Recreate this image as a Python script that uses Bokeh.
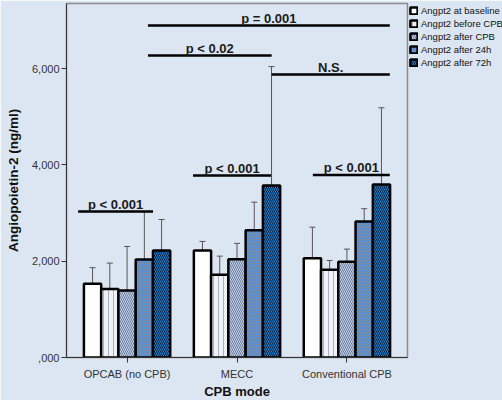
from bokeh.plotting import figure
from bokeh.models import (ColumnDataSource, FactorRange, Range1d, Legend, LegendItem,
                          Whisker, TeeHead, FixedTicker)
from bokeh.transform import dodge
from bokeh.core.properties import value
from bokeh.embed import file_html
from bokeh.resources import INLINE

# ---------------- data ----------------
categories = ["OPCAB (no CPB)", "MECC", "Conventional CPB"]
series_names = ["Angpt2 at baseline", "Angpt2 before CPB", "Angpt2 after CPB",
                "Angpt2 after 24h", "Angpt2 after 72h"]

baseline = [1530, 2220, 2060]
before_cpb = [1420, 1720, 1820]
after_cpb = [1390, 2040, 1990]
after_24h = [2035, 2640, 2825]
after_72h = [2220, 3570, 3590]

baseline_lo = [955, 1885, 1890]
baseline_hi = [1865, 2410, 2705]
before_cpb_lo = [490, 1510, 1570]
before_cpb_hi = [1960, 2105, 2015]
after_cpb_lo = [615, 1710, 1730]
after_cpb_hi = [2305, 2370, 2250]
after_24h_lo = [955, 2035, 2320]
after_24h_hi = [3030, 3225, 3090]
after_72h_lo = [1580, 2530, 2000]
after_72h_hi = [2865, 6040, 5185]

y_ticks = [0, 2000, 4000, 6000]
y_tick_labels = [",000", "2,000", "4,000", "6,000"]

# significance brackets: label, from category, to category, level
bracket_labels = ["p = 0.001", "p < 0.02", "N.S.", "p < 0.001", "p < 0.001", "p < 0.001"]
bracket_from = ["OPCAB (no CPB)", "OPCAB (no CPB)", "MECC", "OPCAB (no CPB)", "MECC", "Conventional CPB"]
bracket_to = ["Conventional CPB", "MECC", "Conventional CPB", "OPCAB (no CPB)", "MECC", "Conventional CPB"]
bracket_level = [6895, 6272, 5877, 3032, 3780, 3790]

# ---------------- styles ----------------
BG = "#dce6f2"
FONT = "Liberation Sans"
bar_w = 0.157
offsets = [-2 * bar_w, -bar_w, 0.0, bar_w, 2 * bar_w]
bracket_from_off = [0.19, 0.19, 0.315, -0.445, -0.40, -0.31]
bracket_to_off = [0.39, 0.315, 0.39, 0.236, 0.31, 0.39]
styles = [
    dict(fill_color="white", hatch_pattern=None, hatch_color="white", hatch_scale=4),
    dict(fill_color="#eef2f8", hatch_pattern="|", hatch_color="#a9b3c0", hatch_scale=5),
    dict(fill_color="#c3d2ea", hatch_pattern="\\", hatch_color="#6a7c9c", hatch_scale=4),
    dict(fill_color="#5b8fd0", hatch_pattern="-", hatch_color="#7d8b9a", hatch_scale=3),
    dict(fill_color="#0b2340", hatch_pattern="\\", hatch_color="#1f7fd0", hatch_scale=4),
]

values = [baseline, before_cpb, after_cpb, after_24h, after_72h]
lows = [baseline_lo, before_cpb_lo, after_cpb_lo, after_24h_lo, after_72h_lo]
highs = [baseline_hi, before_cpb_hi, after_cpb_hi, after_24h_hi, after_72h_hi]

p = figure(frame_width=341, frame_height=354,
           x_range=FactorRange(factors=categories, range_padding=0.034),
           y_range=Range1d(0, 7350),
           output_backend="svg", toolbar_location=None,
           background_fill_color=BG, border_fill_color=BG,
           min_border_left=66, min_border_top=3, min_border_right=0, min_border_bottom=0)

p.xgrid.visible = False
p.ygrid.visible = False
p.outline_line_color = "#8a8a8a"
p.outline_line_width = 1.5

items = []
for i, name in enumerate(series_names):
    src = ColumnDataSource(dict(cat=categories, val=values[i], lo=lows[i], hi=highs[i]))
    st = styles[i]
    kw = dict(fill_color=st["fill_color"], line_color="black", line_width=2.5)
    if st["hatch_pattern"]:
        kw.update(hatch_pattern=st["hatch_pattern"], hatch_color=st["hatch_color"],
                  hatch_scale=st["hatch_scale"], hatch_weight=1)
    r = p.vbar(x=dodge("cat", offsets[i], range=p.x_range), top="val", width=bar_w,
               source=src, **kw)
    items.append(LegendItem(label=name, renderers=[r]))
    w = Whisker(base=dodge("cat", offsets[i], range=p.x_range), lower="lo", upper="hi",
                source=src, line_color="#555555", line_width=1,
                upper_head=TeeHead(size=6, line_color="#555555", line_width=1),
                lower_head=TeeHead(size=6, line_color="#555555", line_width=1))
    p.add_layout(w)

# brackets
bx0 = [categories.index(c) + 0.5 + o for c, o in zip(bracket_from, bracket_from_off)]
bx1 = [categories.index(c) + 0.5 + o for c, o in zip(bracket_to, bracket_to_off)]
bsrc = ColumnDataSource(dict(x0=bx0, x1=bx1, y=bracket_level,
                             xm=[(a + b) / 2 for a, b in zip(bx0, bx1)],
                             label=bracket_labels))
p.segment(x0="x0", y0="y", x1="x1", y1="y", source=bsrc, line_color="black", line_width=2.5)
p.text(x="xm", y="y", text="label", source=bsrc, text_font=value(FONT),
       text_font_style="bold", text_font_size="13px", text_color="#1a1a1a",
       text_align="center", text_baseline="alphabetic", y_offset=-7)

# axes
p.yaxis.ticker = FixedTicker(ticks=y_ticks)
p.yaxis.major_label_overrides = {t: l for t, l in zip(y_ticks, y_tick_labels)}
p.yaxis.minor_tick_line_color = None
for ax in (p.xaxis[0], p.yaxis[0]):
    ax.major_tick_out = 5
    ax.major_tick_in = 0
    ax.axis_line_color = "#333333"
    ax.major_tick_line_color = "#333333"
    ax.major_label_text_font = FONT
    ax.major_label_text_font_size = "11px"
    ax.major_label_text_color = "#333333"
    ax.axis_label_text_font = FONT
    ax.axis_label_text_font_style = "bold"
    ax.axis_label_text_color = "#111111"
p.xaxis.axis_label = "CPB mode"
p.xaxis.axis_label_text_font_size = "13px"
p.xaxis.major_label_standoff = 5
p.xaxis.axis_label_standoff = 1
p.yaxis.axis_label = "Angiopoietin-2 (ng/ml)"
p.yaxis.axis_label_text_font_size = "13.5px"
p.yaxis.major_label_standoff = 2
p.yaxis.axis_label_standoff = 8

legend = Legend(items=items, location="top_left", padding=0, margin=2, spacing=2,
                glyph_width=9, glyph_height=9, label_height=9, label_standoff=3,
                label_text_font=FONT, label_text_font_size="9.5px", label_text_color="#111111",
                background_fill_alpha=0, border_line_alpha=0)
p.add_layout(legend, "right")

open("out.html", "w").write(file_html(p, INLINE))
